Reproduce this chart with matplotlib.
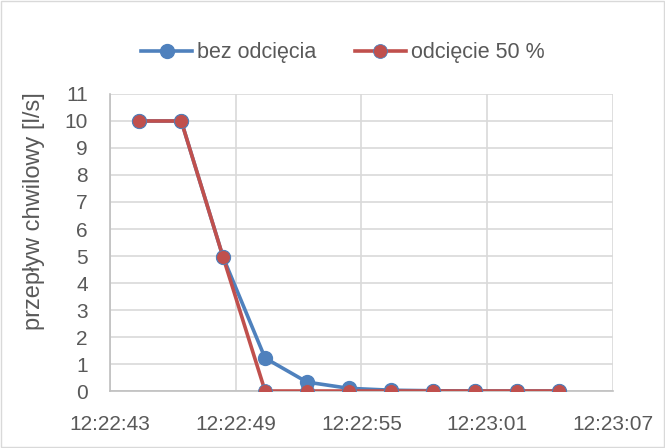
import pandas as pd
import matplotlib
matplotlib.use("Agg")
import matplotlib.pyplot as plt
import matplotlib.dates as mdates
from matplotlib.patches import Rectangle

plt.rcParams['font.family'] = ['Liberation Sans', 'DejaVu Sans']

# pomiary co 2 s
czas = ["12:22:44.4", "12:22:46.4", "12:22:48.4", "12:22:50.4", "12:22:52.4", "12:22:54.4",
        "12:22:56.4", "12:22:58.4", "12:23:00.4", "12:23:02.4", "12:23:04.4"]
bez_odciecia = [10.0, 10.0, 4.95, 1.22, 0.33, 0.1, 0.03, 0.01, 0.0, 0.0, 0.0]
odciecie_50 = [10.0, 10.0, 4.95, 0.0, 0.0, 0.0, 0.0, 0.0, 0.0, 0.0, 0.0]
labels = ["bez odcięcia", "odcięcie 50 %"]

t = pd.to_datetime(["2020-01-01 " + c for c in czas])

blue = "#4F81BD"
red = "#C0504D"
grey_txt = "#595959"

fig = plt.figure(figsize=(6.65, 4.48), dpi=100)
ax = fig.add_axes([0.1654, 0.1272, 0.7564, 0.663])

ax.plot(t, bez_odciecia, color=blue, lw=2.6, marker="o", ms=10, label=labels[0], zorder=3)
ax.plot(t, odciecie_50, color=red, lw=2.6, marker="o", ms=10, mec=blue, mew=0.6,
        label=labels[1], zorder=4)

ax.set_xlim(pd.Timestamp("2020-01-01 12:22:43"), pd.Timestamp("2020-01-01 12:23:07"))
ax.set_ylim(0, 11)
ax.set_yticks(range(0, 12))
ax.xaxis.set_major_locator(mdates.SecondLocator(bysecond=range(1, 60, 6)))
ax.xaxis.set_major_formatter(mdates.DateFormatter("%H:%M:%S"))

ax.grid(True, color="#D9D9D9", lw=1.2)
ax.set_axisbelow(True)
for s in ["top", "right"]:
    ax.spines[s].set_visible(False)
for s in ["left", "bottom"]:
    ax.spines[s].set_color("#BFBFBF")
    ax.spines[s].set_linewidth(1.2)
ax.tick_params(length=0, labelsize=15, colors=grey_txt)
ax.tick_params(axis="y", pad=16)
ax.tick_params(axis="x", pad=17)
ax.set_ylabel("przepływ chwilowy [l/s]", fontsize=17, color=grey_txt)
ax.yaxis.set_label_coords(-0.13, 0.606)

fig.legend(loc="center", bbox_to_anchor=(0.515, 0.882), ncol=2, frameon=False,
           fontsize=15.5, handlelength=2.4, columnspacing=1.8, handletextpad=0.2,
           labelcolor=grey_txt)

fig.patches.append(Rectangle((0.002, 0.002), 0.996, 0.996, transform=fig.transFigure,
                             fill=False, edgecolor="#D9D9D9", lw=1))

fig.savefig("out.png", dpi=100)
